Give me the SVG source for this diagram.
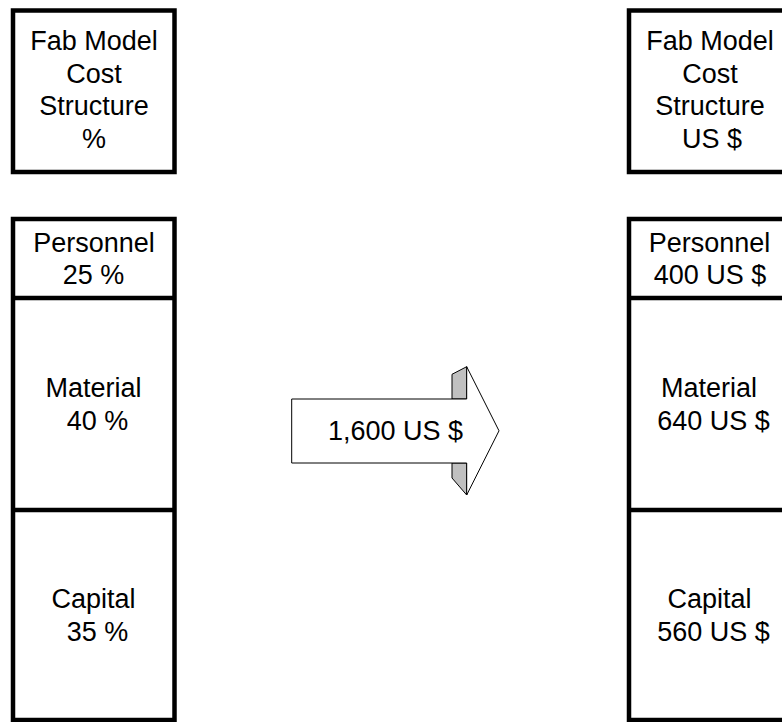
<svg xmlns="http://www.w3.org/2000/svg" width="782" height="722" viewBox="0 0 782 722">
<style>
.box{fill:#fff;stroke:#000;stroke-width:4.5}
.div{stroke:#000;stroke-width:4.5}
text{font-family:"Liberation Sans",Arial,sans-serif;font-size:27px;fill:#000;text-anchor:middle}
.arr{fill:#fff;stroke:#000;stroke-width:1}
.sh{fill:#c0c0c0;stroke:#000;stroke-width:1}
</style>
<rect width="782" height="722" fill="#fff"/>
<g id="left-title">
<rect class="box" x="13" y="10.5" width="161.5" height="161.5"/>
<text x="94" y="50">Fab Model</text>
<text x="94" y="82.5">Cost</text>
<text x="94" y="115">Structure</text>
<text x="94" y="148">%</text>
</g>
<g id="left-stack">
<rect class="box" x="13" y="219" width="161.5" height="501"/>
<line class="div" x1="13" y1="298" x2="174.5" y2="298"/>
<line class="div" x1="13" y1="510" x2="174.5" y2="510"/>
</g>
<g id="left-personnel">
<text x="94" y="251.5">Personnel</text>
<text x="93.5" y="283.5">25 %</text>
</g>
<g id="left-material">
<text x="93.5" y="396.5">Material</text>
<text x="97.5" y="430">40 %</text>
</g>
<g id="left-capital">
<text x="93.5" y="608">Capital</text>
<text x="97.5" y="641">35 %</text>
</g>
<g id="right-title">
<rect class="box" x="629" y="10.5" width="161.5" height="161.5"/>
<text x="710" y="50">Fab Model</text>
<text x="710" y="82.5">Cost</text>
<text x="710" y="115">Structure</text>
<text x="712" y="148">US $</text>
</g>
<g id="right-stack">
<rect class="box" x="629" y="219" width="161.5" height="501"/>
<line class="div" x1="629" y1="298" x2="790.5" y2="298"/>
<line class="div" x1="629" y1="510" x2="790.5" y2="510"/>
</g>
<g id="right-personnel">
<text x="709.5" y="251.5">Personnel</text>
<text x="710" y="283.5">400 US $</text>
</g>
<g id="right-material">
<text x="709" y="396.5">Material</text>
<text x="713.5" y="430">640 US $</text>
</g>
<g id="right-capital">
<text x="709.5" y="608">Capital</text>
<text x="713.5" y="641">560 US $</text>
</g>
<g id="connectors">
<g id="arrow">
<polygon class="sh" points="452,374.3 466.7,366.7 466.7,399 452,399"/>
<polygon class="sh" points="452,463 466.7,463 466.7,495 452,478"/>
<polygon class="arr" points="291.7,399 466.7,399 466.7,366.7 499,430.8 466.7,495 466.7,463 291.7,463"/>
<text x="395.5" y="440">1,600 US $</text>
</g>
</g>
</svg>
